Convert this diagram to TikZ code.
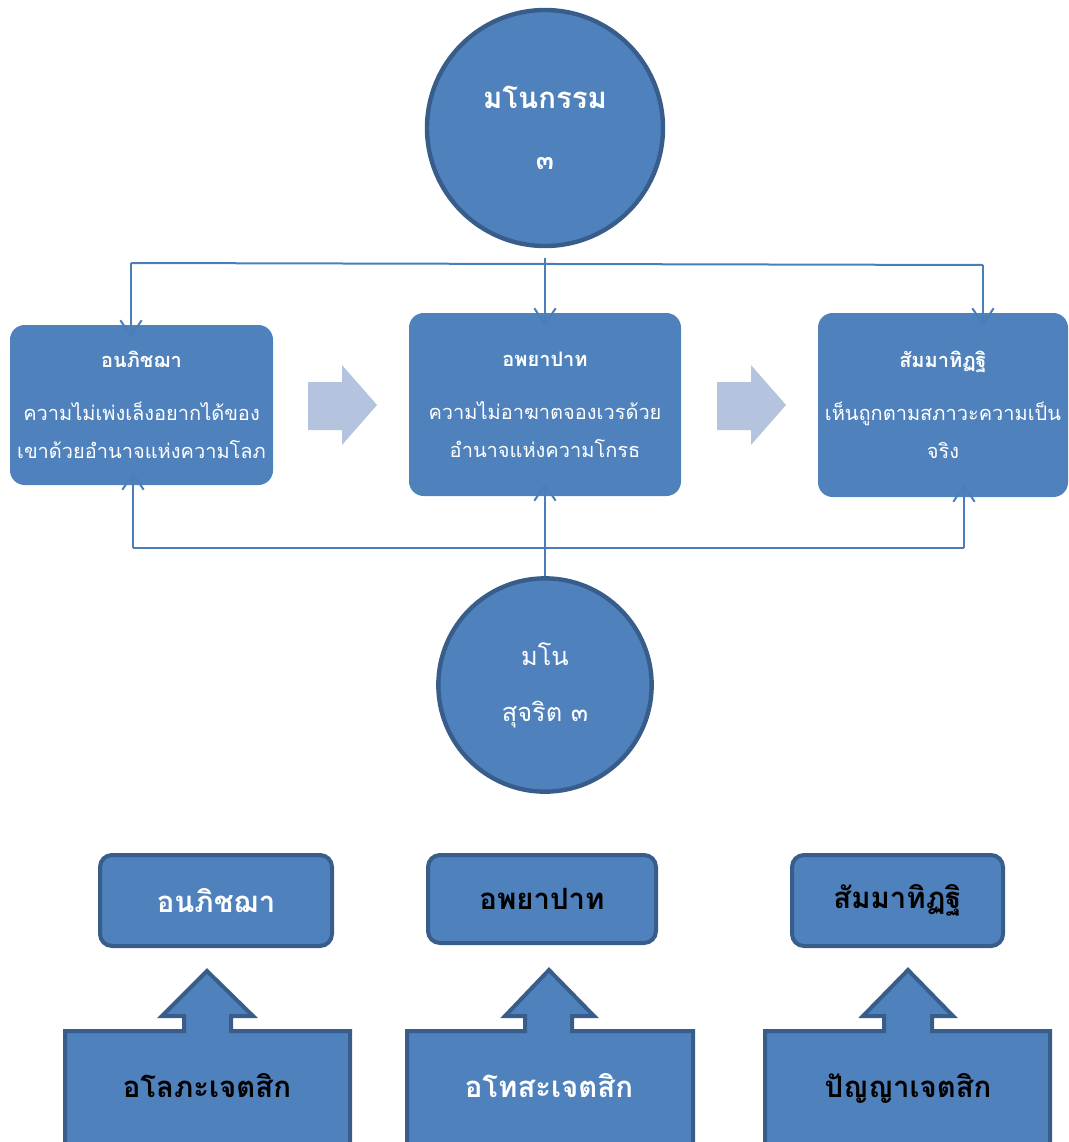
\documentclass[tikz,border=0pt]{standalone}
\usepackage{fontspec}
\setmainfont{Loma}[Script=Thai]
\usetikzlibrary{arrows.meta,positioning}

\definecolor{boxblue}{HTML}{4F81BD}
\definecolor{rimblue}{HTML}{385D8A}
\definecolor{paleblue}{HTML}{B4C3DE}
\definecolor{wireblue}{HTML}{4A7EBB}

\begin{document}
\begin{tikzpicture}[x=0.75pt, y=-0.75pt,
  karma/.style={circle, draw=rimblue, line width=3.3pt, fill=boxblue, text=white, minimum size=177pt, inner sep=0pt, align=center},
  card/.style={rectangle, rounded corners=11pt, fill=boxblue, text=white, align=center, inner sep=0pt, font=\fontsize{15}{28.5}\selectfont},
  tag/.style={rectangle, rounded corners=9pt, draw=rimblue, line width=3pt, fill=boxblue, inner sep=0pt, font=\fontsize{22}{26}\selectfont\bfseries},
  callout/.style={draw=rimblue, line width=3pt, fill=boxblue, line join=miter},
  label/.style={font=\fontsize{22}{26}\selectfont\bfseries, inner sep=0pt},
  link/.style={draw=wireblue, line width=1.5pt},
  tip/.style={-{Straight Barb[length=12pt,width=16pt]}, shorten >=-10pt},
  fade/.style={fill=paleblue}]

\useasboundingbox (0,0) rectangle (1068,1142);

% the three conditions
\node[card, minimum width=197.25pt, minimum height=120pt] (abhijjha) at (141.5,405)
  {{\bfseries อนภิชฌา}\\[11pt]ความไม่เพ่งเล็งอยากได้ของ\\เขาด้วยอำนาจแห่งความโลภ};
\node[card, minimum width=204pt, minimum height=137.25pt] (byapada) at (545,404.5)
  {{\bfseries อพยาปาท}\\[11pt]ความไม่อาฆาตจองเวรด้วย\\อำนาจแห่งความโกรธ};
\node[card, minimum width=187.5pt, minimum height=138pt] (ditthi) at (943,405)
  {{\bfseries สัมมาทิฏฐิ}\\[11pt]เห็นถูกตามสภาวะความเป็น\\จริง};

% block arrows between them
\fill[fade] (308,382) -- (342,382) -- (342,365) -- (377,405) -- (342,445) -- (342,430) -- (308,430) -- cycle;
\fill[fade] (717,382) -- (751,382) -- (751,365) -- (786,405) -- (751,445) -- (751,430) -- (717,430) -- cycle;

% the two circles
\node[karma, font=\fontsize{22}{30}\selectfont\bfseries] (kamma) at (545,128)
  {มโนกรรม\\[16pt]{\fontsize{20}{20}\selectfont ๓}};
\node[karma, minimum size=160pt, font=\fontsize{19}{42}\selectfont] (sucarita) at (545,685)
  {มโน\\สุจริต ๓};

% links above
\coordinate (t1) at (131,263);
\coordinate (t3) at (983,265);
\draw[link] (t1) -- (t3);
\draw[link, tip] (t1) -- (t1 |- abhijjha.north);
\draw[link, tip] (t3) -- (t3 |- ditthi.north);
\draw[link, tip] ([yshift=-7pt]kamma.south) -- (byapada.north);

% links below
\coordinate (u1) at (133,548);
\coordinate (u3) at (964,548);
\draw[link] (u1) -- (u3);
\draw[link, tip] (u1) -- (u1 |- abhijjha.south);
\draw[link, tip] (u3) -- (u3 |- ditthi.south);
\draw[link, tip] (sucarita.north) -- (byapada.south);

% results
\node[tag, text=white, minimum width=174pt, minimum height=68.25pt] (r1) at (216,900.5) {อนภิชฌา};
\node[tag, text=black, minimum width=171pt, minimum height=66pt] (r2) at (542,899) {อพยาปาท};
\node[tag, text=black, minimum width=158.25pt, minimum height=68.25pt] (r3) at (897.5,900.5) {สัมมาทิฏฐิ};

% cetasika callouts
\draw[callout] (65,1160) -- (65,1031) -- (184,1031) -- (184,1016) -- (162,1016) -- (207,971)
  -- (253,1016) -- (231,1016) -- (231,1031) -- (350,1031) -- (350,1160) -- cycle;
\draw[callout] (407,1160) -- (407,1031) -- (525,1031) -- (525,1016) -- (505,1016) -- (549,970)
  -- (594,1016) -- (572,1016) -- (572,1031) -- (693,1031) -- (693,1160) -- cycle;
\draw[callout] (765,1160) -- (765,1031) -- (884,1031) -- (884,1016) -- (863,1016) -- (908,970)
  -- (953,1016) -- (932,1016) -- (932,1031) -- (1050,1031) -- (1050,1160) -- cycle;

\node[label, text=black] (c1) at (207,1086) {อโลภะเจตสิก};
\node[label, text=white] (c2) at (549,1086) {อโทสะเจตสิก};
\node[label, text=black] (c3) at (908,1088) {ปัญญาเจตสิก};

\end{tikzpicture}
\end{document}
